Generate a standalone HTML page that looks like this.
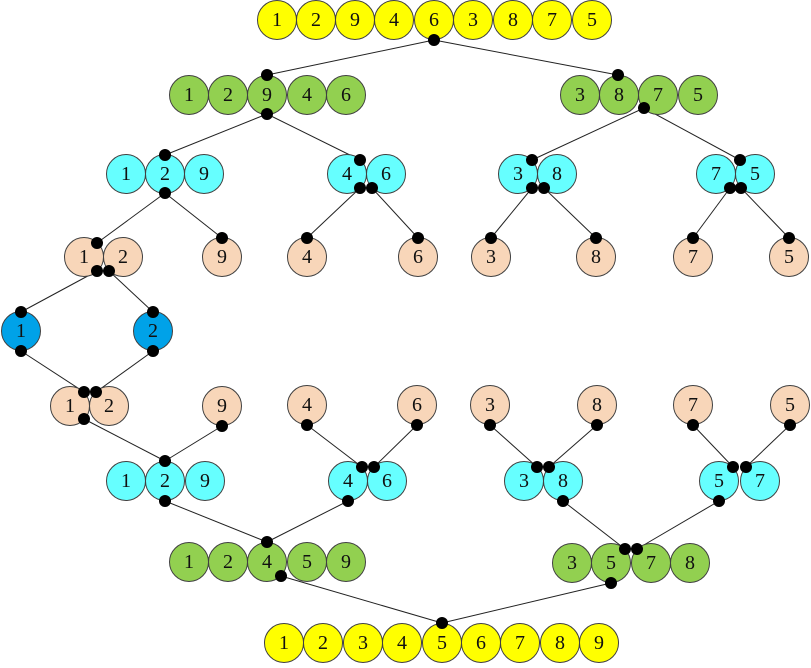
<!DOCTYPE html>
<html><head><meta charset="utf-8"><style>
html,body{margin:0;padding:0;background:#fff;width:811px;height:668px;overflow:hidden}
svg text{font-family:"Liberation Serif",serif;font-size:20px;text-anchor:middle;dominant-baseline:central;fill:#111}
.y{fill:#ffff00}.g{fill:#92d050}.c{fill:#66ffff}.p{fill:#f8d6b9}.b{fill:#00a2e8}
circle.n{stroke:#404040;stroke-width:1}
line{stroke:#222;stroke-width:1}
</style></head><body>
<svg width="811" height="668" viewBox="0 0 811 668" xmlns="http://www.w3.org/2000/svg">
<g>
<line x1="434" y1="40" x2="267" y2="75"/><line x1="434" y1="40" x2="618" y2="75"/>
<line x1="267" y1="114" x2="165" y2="155"/><line x1="267" y1="114" x2="360" y2="160"/>
<line x1="644" y1="108" x2="532" y2="160"/><line x1="644" y1="108" x2="740" y2="160"/>
<line x1="165" y1="193" x2="97" y2="243"/><line x1="165" y1="193" x2="222" y2="238"/>
<line x1="360" y1="188" x2="307" y2="238"/><line x1="372" y1="188" x2="418" y2="238"/>
<line x1="532" y1="188" x2="491" y2="238"/><line x1="544" y1="188" x2="596" y2="238"/>
<line x1="730" y1="188" x2="693" y2="238"/><line x1="741" y1="188" x2="789" y2="238"/>
<line x1="97" y1="271" x2="21" y2="312"/><line x1="109" y1="271" x2="153" y2="312"/>
<line x1="21" y1="351" x2="84" y2="392"/><line x1="153" y1="351" x2="96" y2="392"/>
<line x1="84" y1="419" x2="165" y2="461"/><line x1="222" y1="426" x2="165" y2="461"/>
<line x1="307" y1="425" x2="362" y2="467"/><line x1="417" y1="425" x2="374" y2="467"/>
<line x1="490" y1="425" x2="537" y2="467"/><line x1="597" y1="425" x2="549" y2="467"/>
<line x1="693" y1="425" x2="733" y2="467"/><line x1="790" y1="425" x2="746" y2="467"/>
<line x1="165" y1="501" x2="267" y2="542"/><line x1="348" y1="501" x2="267" y2="542"/>
<line x1="563" y1="501" x2="625" y2="549"/><line x1="719" y1="501" x2="637" y2="549"/>
<line x1="281" y1="576" x2="442" y2="623"/><line x1="611" y1="583" x2="442" y2="623"/>
</g>
<g>
<circle class="n y" cx="277" cy="20" r="19.5"/><text x="277" y="20">1</text>
<circle class="n y" cx="316" cy="20" r="19.5"/><text x="316" y="20">2</text>
<circle class="n y" cx="355" cy="20" r="19.5"/><text x="355" y="20">9</text>
<circle class="n y" cx="394" cy="20" r="19.5"/><text x="394" y="20">4</text>
<circle class="n y" cx="434" cy="20" r="19.5"/><text x="434" y="20">6</text>
<circle class="n y" cx="473" cy="20" r="19.5"/><text x="473" y="20">3</text>
<circle class="n y" cx="513" cy="20" r="19.5"/><text x="513" y="20">8</text>
<circle class="n y" cx="552" cy="20" r="19.5"/><text x="552" y="20">7</text>
<circle class="n y" cx="592" cy="20" r="19.5"/><text x="592" y="20">5</text>

<circle class="n g" cx="189" cy="95" r="19.5"/><text x="189" y="95">1</text>
<circle class="n g" cx="228" cy="95" r="19.5"/><text x="228" y="95">2</text>
<circle class="n g" cx="267" cy="95" r="19.5"/><text x="267" y="95">9</text>
<circle class="n g" cx="307" cy="95" r="19.5"/><text x="307" y="95">4</text>
<circle class="n g" cx="346" cy="95" r="19.5"/><text x="346" y="95">6</text>
<circle class="n g" cx="580" cy="95" r="19.5"/><text x="580" y="95">3</text>
<circle class="n g" cx="619" cy="95" r="19.5"/><text x="619" y="95">8</text>
<circle class="n g" cx="658" cy="95" r="19.5"/><text x="658" y="95">7</text>
<circle class="n g" cx="698" cy="95" r="19.5"/><text x="698" y="95">5</text>

<circle class="n c" cx="126" cy="174" r="19.5"/><text x="126" y="174">1</text>
<circle class="n c" cx="165" cy="174" r="19.5"/><text x="165" y="174">2</text>
<circle class="n c" cx="204" cy="174" r="19.5"/><text x="204" y="174">9</text>
<circle class="n c" cx="347" cy="174" r="19.5"/><text x="347" y="174">4</text>
<circle class="n c" cx="386" cy="174" r="19.5"/><text x="386" y="174">6</text>
<circle class="n c" cx="518" cy="174" r="19.5"/><text x="518" y="174">3</text>
<circle class="n c" cx="557" cy="174" r="19.5"/><text x="557" y="174">8</text>
<circle class="n c" cx="716" cy="174" r="19.5"/><text x="716" y="174">7</text>
<circle class="n c" cx="755" cy="174" r="19.5"/><text x="755" y="174">5</text>

<circle class="n p" cx="84" cy="257" r="19.5"/><text x="84" y="257">1</text>
<circle class="n p" cx="123" cy="257" r="19.5"/><text x="123" y="257">2</text>
<circle class="n p" cx="222" cy="257" r="19.5"/><text x="222" y="257">9</text>
<circle class="n p" cx="307" cy="257" r="19.5"/><text x="307" y="257">4</text>
<circle class="n p" cx="418" cy="257" r="19.5"/><text x="418" y="257">6</text>
<circle class="n p" cx="491" cy="257" r="19.5"/><text x="491" y="257">3</text>
<circle class="n p" cx="596" cy="257" r="19.5"/><text x="596" y="257">8</text>
<circle class="n p" cx="693" cy="257" r="19.5"/><text x="693" y="257">7</text>
<circle class="n p" cx="789" cy="257" r="19.5"/><text x="789" y="257">5</text>

<circle class="n b" cx="21" cy="331" r="19.5"/><text x="21" y="331">1</text>
<circle class="n b" cx="153" cy="331" r="19.5"/><text x="153" y="331">2</text>

<circle class="n p" cx="70" cy="406" r="19.5"/><text x="70" y="406">1</text>
<circle class="n p" cx="109" cy="406" r="19.5"/><text x="109" y="406">2</text>
<circle class="n p" cx="222" cy="406" r="19.5"/><text x="222" y="406">9</text>
<circle class="n p" cx="307" cy="405" r="19.5"/><text x="307" y="405">4</text>
<circle class="n p" cx="417" cy="405" r="19.5"/><text x="417" y="405">6</text>
<circle class="n p" cx="490" cy="405" r="19.5"/><text x="490" y="405">3</text>
<circle class="n p" cx="597" cy="405" r="19.5"/><text x="597" y="405">8</text>
<circle class="n p" cx="693" cy="405" r="19.5"/><text x="693" y="405">7</text>
<circle class="n p" cx="790" cy="405" r="19.5"/><text x="790" y="405">5</text>

<circle class="n c" cx="126" cy="481" r="19.5"/><text x="126" y="481">1</text>
<circle class="n c" cx="165" cy="481" r="19.5"/><text x="165" y="481">2</text>
<circle class="n c" cx="205" cy="481" r="19.5"/><text x="205" y="481">9</text>
<circle class="n c" cx="348" cy="481" r="19.5"/><text x="348" y="481">4</text>
<circle class="n c" cx="387" cy="481" r="19.5"/><text x="387" y="481">6</text>
<circle class="n c" cx="524" cy="481" r="19.5"/><text x="524" y="481">3</text>
<circle class="n c" cx="563" cy="481" r="19.5"/><text x="563" y="481">8</text>
<circle class="n c" cx="719" cy="481" r="19.5"/><text x="719" y="481">5</text>
<circle class="n c" cx="760" cy="481" r="19.5"/><text x="760" y="481">7</text>

<circle class="n g" cx="189" cy="562" r="19.5"/><text x="189" y="562">1</text>
<circle class="n g" cx="228" cy="562" r="19.5"/><text x="228" y="562">2</text>
<circle class="n g" cx="267" cy="562" r="19.5"/><text x="267" y="562">4</text>
<circle class="n g" cx="307" cy="562" r="19.5"/><text x="307" y="562">5</text>
<circle class="n g" cx="346" cy="562" r="19.5"/><text x="346" y="562">9</text>
<circle class="n g" cx="572" cy="563" r="19.5"/><text x="572" y="563">3</text>
<circle class="n g" cx="611" cy="563" r="19.5"/><text x="611" y="563">5</text>
<circle class="n g" cx="651" cy="563" r="19.5"/><text x="651" y="563">7</text>
<circle class="n g" cx="690" cy="563" r="19.5"/><text x="690" y="563">8</text>

<circle class="n y" cx="284" cy="643" r="19.5"/><text x="284" y="643">1</text>
<circle class="n y" cx="323" cy="643" r="19.5"/><text x="323" y="643">2</text>
<circle class="n y" cx="363" cy="643" r="19.5"/><text x="363" y="643">3</text>
<circle class="n y" cx="402" cy="643" r="19.5"/><text x="402" y="643">4</text>
<circle class="n y" cx="442" cy="643" r="19.5"/><text x="442" y="643">5</text>
<circle class="n y" cx="481" cy="643" r="19.5"/><text x="481" y="643">6</text>
<circle class="n y" cx="520" cy="643" r="19.5"/><text x="520" y="643">7</text>
<circle class="n y" cx="560" cy="643" r="19.5"/><text x="560" y="643">8</text>
<circle class="n y" cx="599" cy="643" r="19.5"/><text x="599" y="643">9</text>
</g>
<g fill="#000">
<circle cx="434" cy="40" r="6"/><circle cx="267" cy="75" r="6"/><circle cx="618" cy="75" r="6"/>
<circle cx="267" cy="114" r="6"/><circle cx="644" cy="108" r="6"/>
<circle cx="165" cy="155" r="6"/><circle cx="165" cy="193" r="6"/>
<circle cx="360" cy="160" r="6"/><circle cx="360" cy="188" r="6"/><circle cx="372" cy="188" r="6"/>
<circle cx="532" cy="160" r="6"/><circle cx="532" cy="188" r="6"/><circle cx="544" cy="188" r="6"/>
<circle cx="740" cy="160" r="6"/><circle cx="730" cy="188" r="6"/><circle cx="741" cy="188" r="6"/>
<circle cx="97" cy="243" r="6"/><circle cx="97" cy="271" r="6"/><circle cx="109" cy="271" r="6"/>
<circle cx="222" cy="238" r="6"/><circle cx="307" cy="238" r="6"/><circle cx="418" cy="238" r="6"/>
<circle cx="491" cy="238" r="6"/><circle cx="596" cy="238" r="6"/><circle cx="693" cy="238" r="6"/><circle cx="789" cy="238" r="6"/>
<circle cx="21" cy="312" r="6"/><circle cx="21" cy="351" r="6"/><circle cx="153" cy="312" r="6"/><circle cx="153" cy="351" r="6"/>
<circle cx="84" cy="392" r="6"/><circle cx="96" cy="392" r="6"/><circle cx="84" cy="419" r="6"/>
<circle cx="222" cy="426" r="6"/><circle cx="307" cy="425" r="6"/><circle cx="417" cy="425" r="6"/>
<circle cx="490" cy="425" r="6"/><circle cx="597" cy="425" r="6"/><circle cx="693" cy="425" r="6"/><circle cx="790" cy="425" r="6"/>
<circle cx="165" cy="461" r="6"/><circle cx="165" cy="501" r="6"/>
<circle cx="362" cy="467" r="6"/><circle cx="374" cy="467" r="6"/><circle cx="348" cy="501" r="6"/>
<circle cx="537" cy="467" r="6"/><circle cx="549" cy="467" r="6"/><circle cx="563" cy="501" r="6"/>
<circle cx="733" cy="467" r="6"/><circle cx="746" cy="467" r="6"/><circle cx="719" cy="501" r="6"/>
<circle cx="267" cy="542" r="6"/><circle cx="281" cy="576" r="6"/>
<circle cx="625" cy="549" r="6"/><circle cx="637" cy="549" r="6"/><circle cx="611" cy="583" r="6"/>
<circle cx="442" cy="623" r="6"/>
</g>
</svg>
</body></html>
